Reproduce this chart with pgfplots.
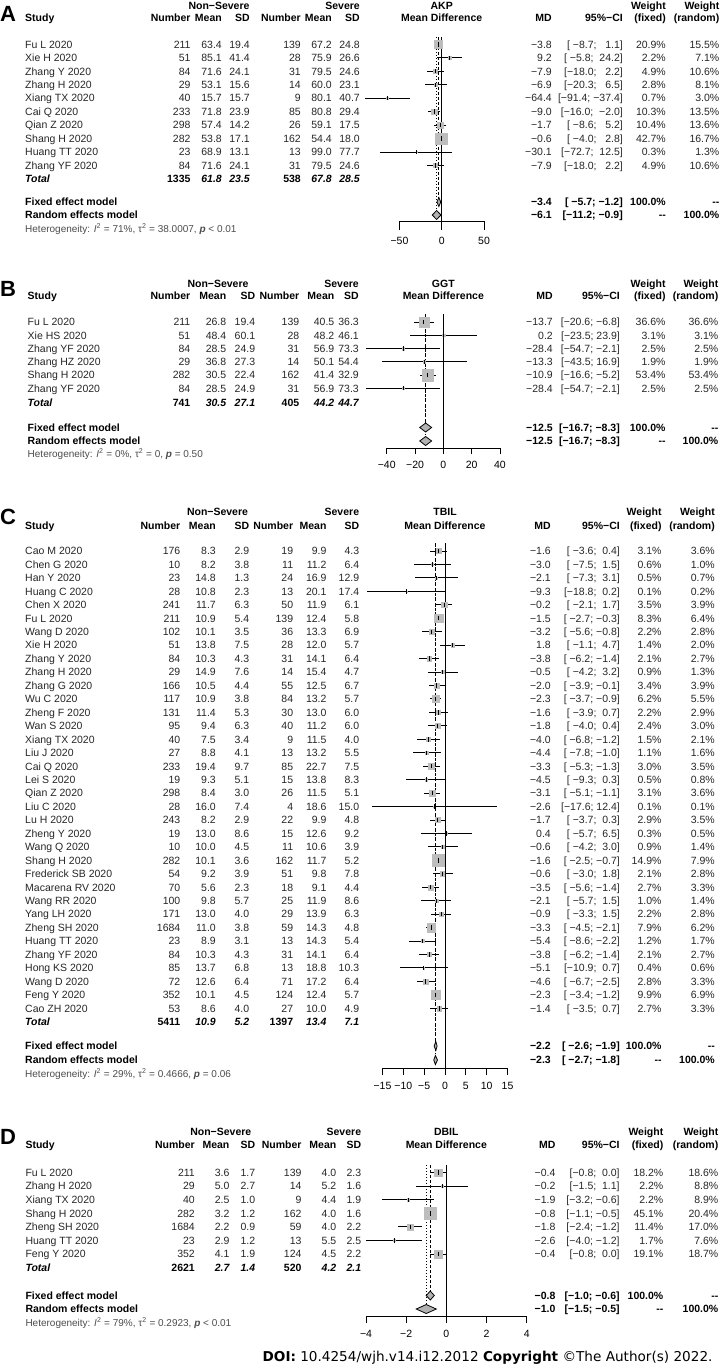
\documentclass[border=0pt]{standalone}
\usepackage{fontspec}
\setmainfont{Liberation Sans}
\newfontfamily\doifont{DejaVu Sans}
\usepackage{pgfplots}
\usepackage{pgfplotstable}
\pgfplotsset{compat=1.18}
\definecolor{sqgray}{gray}{0.74}

% forest plot data: row, MD, CI low, CI high, fixed weight
\pgfplotstableread{
row md lo hi w
1 -3.8 -8.7 1.1 20.9
2 9.2 -5.8 24.2 2.2
3 -7.9 -18.0 2.2 4.9
4 -6.9 -20.3 6.5 2.8
5 -64.4 -91.4 -37.4 0.7
6 -9.0 -16.0 -2.0 10.3
7 -1.7 -8.6 5.2 10.4
8 -0.6 -4.0 2.8 42.7
9 -30.1 -72.7 12.5 0.3
10 -7.9 -18.0 2.2 4.9
}\akp
\pgfplotstableread{
row md lo hi w
1 -13.7 -20.6 -6.8 36.6
2 0.2 -23.5 23.9 3.1
3 -28.4 -54.7 -2.1 2.5
4 -13.3 -43.5 16.9 1.9
5 -10.9 -16.6 -5.2 53.4
6 -28.4 -54.7 -2.1 2.5
}\ggt
\pgfplotstableread{
row md lo hi w
1 -1.6 -3.6 0.4 3.1
2 -3.0 -7.5 1.5 0.6
3 -2.1 -7.3 3.1 0.5
4 -9.3 -18.8 0.2 0.1
5 -0.2 -2.1 1.7 3.5
6 -1.5 -2.7 -0.3 8.3
7 -3.2 -5.6 -0.8 2.2
8 1.8 -1.1 4.7 1.4
9 -3.8 -6.2 -1.4 2.1
10 -0.5 -4.2 3.2 0.9
11 -2.0 -3.9 -0.1 3.4
12 -2.3 -3.7 -0.9 6.2
13 -1.6 -3.9 0.7 2.2
14 -1.8 -4.0 0.4 2.4
15 -4.0 -6.8 -1.2 1.5
16 -4.4 -7.8 -1.0 1.1
17 -3.3 -5.3 -1.3 3.0
18 -4.5 -9.3 0.3 0.5
19 -3.1 -5.1 -1.1 3.1
20 -2.6 -17.6 12.4 0.1
21 -1.7 -3.7 0.3 2.9
22 0.4 -5.7 6.5 0.3
23 -0.6 -4.2 3.0 0.9
24 -1.6 -2.5 -0.7 14.9
25 -0.6 -3.0 1.8 2.1
26 -3.5 -5.6 -1.4 2.7
27 -2.1 -5.7 1.5 1.0
28 -0.9 -3.3 1.5 2.2
29 -3.3 -4.5 -2.1 7.9
30 -5.4 -8.6 -2.2 1.2
31 -3.8 -6.2 -1.4 2.1
32 -5.1 -10.9 0.7 0.4
33 -4.6 -6.7 -2.5 2.8
34 -2.3 -3.4 -1.2 9.9
35 -1.4 -3.5 0.7 2.7
}\tbil
\pgfplotstableread{
row md lo hi w
1 -0.4 -0.8 0.0 18.2
2 -0.2 -1.5 1.1 2.2
3 -1.9 -3.2 -0.6 2.2
4 -0.8 -1.1 -0.5 45.1
5 -1.8 -2.4 -1.2 11.4
6 -2.6 -4.0 -1.2 1.7
7 -0.4 -0.8 0.0 19.1
}\dbil

\pgfplotsset{
  forest/.style={scale only axis, clip=false, enlargelimits=false,
    axis x line=bottom, axis y line=none, ytick=\empty,
    x axis line style={-,line width=1pt},
    tick align=outside, xtick style={line width=1pt,black},
    xticklabel style={font=\fontsize{10.5}{12}\selectfont,yshift=-4pt},
    anchor=north west},
  refl/.style={black,line width=1pt},
  fixl/.style={black,line width=1pt,dash pattern=on 3pt off 2pt},
  ranl/.style={black,line width=1pt,dash pattern=on 1pt off 2pt},
  diam/.style={fill=black!30,draw=black,line width=0.8pt},
}

% squares sized by weight, then CI lines with point marks
\newcommand{\studies}[4]{%
  \addplot[only marks, mark=square*, scatter,
    scatter/use mapped color={draw=sqgray,fill=sqgray},
    visualization depends on={5.75*sqrt(\thisrow{w}/#4) \as \ms},
    scatter/@pre marker code/.append style={/tikz/mark size=\ms}]
    table[x=md, y expr={-(#2+#3*(\thisrow{row}-1))}] {#1};
  \addplot[only marks, mark=|, mark size=2.2pt, mark options={line width=1pt,black},
    error bars/.cd, x dir=both, x explicit, error mark=none,
    error bar style={line width=1pt,black}]
    table[x=md, y expr={-(#2+#3*(\thisrow{row}-1))},
      x error plus expr=\thisrow{hi}-\thisrow{md},
      x error minus expr=\thisrow{md}-\thisrow{lo}] {#1};
}

\newcommand{\setcolsL}[7]{\def\xS{#1}\def\xNa{#2}\def\xMa{#3}\def\xSa{#4}\def\xNb{#5}\def\xMb{#6}\def\xSb{#7}}
\newcommand{\setcolsR}[4]{\def\xMD{#1}\def\xCI{#2}\def\xWf{#3}\def\xWr{#4}}

\newcommand{\heads}[5]{%
  \pgfmathsetmacro\ya{-(#1+3.8)}\pgfmathsetmacro\yb{-(#2+3.8)}
  \node[hdr,anchor=base] at (#3pt,\ya pt) {Non−Severe};
  \node[hdr,anchor=base east] at (\xSb pt,\ya pt) {Severe};
  \node[hdr,anchor=base west] at (\xS pt,\yb pt) {Study};
  \node[hdr,anchor=base east] at (\xNa pt,\yb pt) {Number};
  \node[hdr,anchor=base east] at (\xMa pt,\yb pt) {Mean};
  \node[hdr,anchor=base east] at (\xSa pt,\yb pt) {SD};
  \node[hdr,anchor=base east] at (\xNb pt,\yb pt) {Number};
  \node[hdr,anchor=base east] at (\xMb pt,\yb pt) {Mean};
  \node[hdr,anchor=base east] at (\xSb pt,\yb pt) {SD};
  \node[hdr,anchor=base] at (#5pt,\ya pt) {#4};
  \node[hdr,anchor=base] at (#5pt,\yb pt) {Mean Difference};
  \node[hdr,anchor=base east] at (\xMD pt,\yb pt) {MD};
  \node[hdr,anchor=base east] at (\xCI pt,\yb pt) {95\%−CI};
  \node[hdr,anchor=base east] at (\xWf pt,\ya pt) {Weight};
  \node[hdr,anchor=base east] at (\xWf pt,\yb pt) {(fixed)};
  \node[hdr,anchor=base east] at (\xWr pt,\ya pt) {Weight};
  \node[hdr,anchor=base east] at (\xWr pt,\yb pt) {(random)};
}

\newcommand{\tablerows}[3]{%
  \foreach \vS/\vA/\vB/\vC/\vD/\vE/\vF/\vM/\vK/\vW/\vR [count=\i] in {#3} {
    \pgfmathsetmacro\yy{-(#1+#2*(\i-1))-3.8}
    \node[txt,anchor=base west] at (\xS pt,\yy pt) {\vS};
    \node[txt,anchor=base east] at (\xNa pt,\yy pt) {\vA};
    \node[txt,anchor=base east] at (\xMa pt,\yy pt) {\vB};
    \node[txt,anchor=base east] at (\xSa pt,\yy pt) {\vC};
    \node[txt,anchor=base east] at (\xNb pt,\yy pt) {\vD};
    \node[txt,anchor=base east] at (\xMb pt,\yy pt) {\vE};
    \node[txt,anchor=base east] at (\xSb pt,\yy pt) {\vF};
    \node[txt,anchor=base east] at (\xMD pt,\yy pt) {\vM};
    \node[txt,anchor=base east] at (\xCI pt,\yy pt) {\vK};
    \node[txt,anchor=base east] at (\xWf pt,\yy pt) {\vW};
    \node[txt,anchor=base east] at (\xWr pt,\yy pt) {\vR};
  }}

\newcommand{\totalrow}[7]{%
  \pgfmathsetmacro\ya{-(#1+3.8)}
  \node[hdr,anchor=base west] at (\xS pt,\ya pt) {\itshape Total};
  \node[hdr,anchor=base east] at (\xNa pt,\ya pt) {#2};
  \node[hdr,anchor=base east] at (\xMa pt,\ya pt) {\itshape #3};
  \node[hdr,anchor=base east] at (\xSa pt,\ya pt) {\itshape #4};
  \node[hdr,anchor=base east] at (\xNb pt,\ya pt) {#5};
  \node[hdr,anchor=base east] at (\xMb pt,\ya pt) {\itshape #6};
  \node[hdr,anchor=base east] at (\xSb pt,\ya pt) {\itshape #7};
}

\newcommand{\modelrows}[8]{%
  \pgfmathsetmacro\ya{-(#1+3.8)}\pgfmathsetmacro\yb{-(#2+3.8)}\pgfmathsetmacro\yc{-(#3+3.6)}
  \node[hdr,anchor=base west] at (\xS pt,\ya pt) {Fixed effect model};
  \node[hdr,anchor=base east] at (\xMD pt,\ya pt) {#4};
  \node[hdr,anchor=base east] at (\xCI pt,\ya pt) {#5};
  \node[hdr,anchor=base east] at (\xWf pt,\ya pt) {100.0\%};
  \node[hdr,anchor=base east] at (\xWr pt,\ya pt) {-{}-};
  \node[hdr,anchor=base west] at (\xS pt,\yb pt) {Random effects model};
  \node[hdr,anchor=base east] at (\xMD pt,\yb pt) {#6};
  \node[hdr,anchor=base east] at (\xCI pt,\yb pt) {#7};
  \node[hdr,anchor=base east] at (\xWf pt,\yb pt) {-{}-};
  \node[hdr,anchor=base east] at (\xWr pt,\yb pt) {100.0\%};
  \node[het,anchor=base west] at (\xS pt,\yc pt) {Heterogeneity: #8};
}

\begin{document}
\begin{tikzpicture}[
  txt/.style={font=\fontsize{10.5}{12}\selectfont,inner sep=0pt,text=black!85},
  hdr/.style={font=\fontsize{10.5}{12}\selectfont\bfseries,inner sep=0pt,text=black},
  het/.style={font=\fontsize{10}{11}\selectfont,inner sep=0pt,text=black!70},
  lbl/.style={font=\fontsize{22}{22}\selectfont\bfseries,inner sep=0pt,anchor=base west}]
\useasboundingbox (0,0) rectangle (720pt,-1371pt);

%% ---------------- A: AKP ----------------
\node[lbl] at (0pt,-21pt) {A};
\setcolsL{25}{190.7}{222}{250}{301}{332}{360}
\setcolsR{552}{623}{666}{719.5}
\heads{6}{18}{219}{AKP}{441.7}
\tablerows{44.3}{13.47}{%
Fu L 2020/211/63.4/19.4/139/67.2/24.8/−3.8/[~−8.7;~~~1.1]/20.9\%/15.5\%,
Xie H 2020/51/85.1/41.4/28/75.9/26.6/9.2/[~−5.8;~~24.2]/2.2\%/7.1\%,
Zhang Y 2020/84/71.6/24.1/31/79.5/24.6/−7.9/[−18.0;~~~2.2]/4.9\%/10.6\%,
Zhang H 2020/29/53.1/15.6/14/60.0/23.1/−6.9/[−20.3;~~~6.5]/2.8\%/8.1\%,
Xiang TX 2020/40/15.7/15.7/9/80.1/40.7/−64.4/[−91.4;~−37.4]/0.7\%/3.0\%,
Cai Q 2020/233/71.8/23.9/85/80.8/29.4/−9.0/[−16.0;~~−2.0]/10.3\%/13.5\%,
Qian Z 2020/298/57.4/14.2/26/59.1/17.5/−1.7/[~−8.6;~~~5.2]/10.4\%/13.6\%,
Shang H 2020/282/53.8/17.1/162/54.4/18.0/−0.6/[~−4.0;~~~2.8]/42.7\%/16.7\%,
Huang TT 2020/23/68.9/13.1/13/99.0/77.7/−30.1/[−72.7;~~12.5]/0.3\%/1.3\%,
Zhang YF 2020/84/71.6/24.1/31/79.5/24.6/−7.9/[−18.0;~~~2.2]/4.9\%/10.6\%}
\totalrow{179}{1335}{61.8}{23.5}{538}{67.8}{28.5}
\modelrows{202}{215}{229}{−3.4}{[~−5.7;~−1.2]}{−6.1}{[−11.2;~−0.9]}%
  {\textit{I}\textsuperscript{2} = 71\%, τ\textsuperscript{2} = 38.0007, \textbf{\textit{p}} < 0.01}
\begin{axis}[forest, at={(399.5pt,-37pt)}, width=84.5pt, height=184pt,
  xmin=-50, xmax=50, ymin=-221, ymax=-37, major tick length=9pt,
  xtick={-50,0,50}, xticklabels={−50,0,50}]
\addplot[refl] coordinates {(0,-37) (0,-221)};
\addplot[fixl] coordinates {(-3.4,-37) (-3.4,-202)};
\addplot[ranl] coordinates {(-6.1,-37) (-6.1,-215)};
\studies{\akp}{44.3}{13.47}{42.7}
\addplot[diam] coordinates {(-5.7,-202) (-3.4,-197.5) (-1.2,-202) (-3.4,-206.5)} --cycle;
\addplot[diam] coordinates {(-11.2,-215) (-6.1,-210.5) (-0.9,-215) (-6.1,-219.5)} --cycle;
\end{axis}

%% ---------------- B: GGT ----------------
\node[lbl] at (0pt,-296pt) {B};
\setcolsL{27.5}{190.5}{226.4}{255.3}{299.4}{334.5}{359}
\setcolsR{553}{620}{665.7}{718.5}
\heads{283.5}{295.5}{218}{GGT}{443.3}
\tablerows{322}{13.25}{%
Fu L 2020/211/26.8/19.4/139/40.5/36.3/−13.7/[−20.6;~−6.8]/36.6\%/36.6\%,
Xie HS 2020/51/48.4/60.1/28/48.2/46.1/0.2/[−23.5;~23.9]/3.1\%/3.1\%,
Zhang YF 2020/84/28.5/24.9/31/56.9/73.3/−28.4/[−54.7;~−2.1]/2.5\%/2.5\%,
Zhang HZ 2020/29/36.8/27.3/14/50.1/54.4/−13.3/[−43.5;~16.9]/1.9\%/1.9\%,
Shang H 2020/282/30.5/22.4/162/41.4/32.9/−10.9/[−16.6;~−5.2]/53.4\%/53.4\%,
Zhang YF 2020/84/28.5/24.9/31/56.9/73.3/−28.4/[−54.7;~−2.1]/2.5\%/2.5\%}
\totalrow{402.3}{741}{30.5}{27.1}{405}{44.2}{44.7}
\modelrows{427.5}{441}{454}{−12.5}{[−16.7;~−8.3]}{−12.5}{[−16.7;~−8.3]}%
  {\textit{I}\textsuperscript{2} = 0\%, τ\textsuperscript{2} = 0, \textbf{\textit{p}} = 0.50}
\begin{axis}[forest, at={(386.7pt,-314pt)}, width=113.3pt, height=134pt,
  xmin=-40, xmax=40, ymin=-448, ymax=-314, major tick length=6pt,
  xtick={-40,-20,0,20,40}, xticklabels={−40,−20,0,20,40}]
\addplot[refl] coordinates {(0,-314) (0,-448)};
\addplot[fixl] coordinates {(-12.5,-314) (-12.5,-427.5)};
\addplot[ranl] coordinates {(-12.5,-314) (-12.5,-441)};
\studies{\ggt}{322}{13.25}{53.4}
\addplot[diam] coordinates {(-16.7,-427.5) (-12.5,-423) (-8.3,-427.5) (-12.5,-432)} --cycle;
\addplot[diam] coordinates {(-16.7,-441) (-12.5,-436.5) (-8.3,-441) (-12.5,-445.5)} --cycle;
\end{axis}

%% ---------------- C: TBIL ----------------
\node[lbl] at (0pt,-524pt) {C};
\setcolsL{25}{180.5}{216}{249.3}{293.3}{326.7}{359.3}
\setcolsR{551}{620}{661.7}{715}
\heads{511.7}{525.7}{217.5}{TBIL}{445}
\tablerows{551}{13.45}{%
Cao M 2020/176/8.3/2.9/19/9.9/4.3/−1.6/[~−3.6;~~0.4]/3.1\%/3.6\%,
Chen G 2020/10/8.2/3.8/11/11.2/6.4/−3.0/[~−7.5;~~1.5]/0.6\%/1.0\%,
Han Y 2020/23/14.8/1.3/24/16.9/12.9/−2.1/[~−7.3;~~3.1]/0.5\%/0.7\%,
Huang C 2020/28/10.8/2.3/13/20.1/17.4/−9.3/[−18.8;~~0.2]/0.1\%/0.2\%,
Chen X 2020/241/11.7/6.3/50/11.9/6.1/−0.2/[~−2.1;~~1.7]/3.5\%/3.9\%,
Fu L 2020/211/10.9/5.4/139/12.4/5.8/−1.5/[~−2.7;~−0.3]/8.3\%/6.4\%,
Wang D 2020/102/10.1/3.5/36/13.3/6.9/−3.2/[~−5.6;~−0.8]/2.2\%/2.8\%,
Xie H 2020/51/13.8/7.5/28/12.0/5.7/1.8/[~−1.1;~~4.7]/1.4\%/2.0\%,
Zhang Y 2020/84/10.3/4.3/31/14.1/6.4/−3.8/[~−6.2;~−1.4]/2.1\%/2.7\%,
Zhang H 2020/29/14.9/7.6/14/15.4/4.7/−0.5/[~−4.2;~~3.2]/0.9\%/1.3\%,
Zhang G 2020/166/10.5/4.4/55/12.5/6.7/−2.0/[~−3.9;~−0.1]/3.4\%/3.9\%,
Wu C 2020/117/10.9/3.8/84/13.2/5.7/−2.3/[~−3.7;~−0.9]/6.2\%/5.5\%,
Zheng F 2020/131/11.4/5.3/30/13.0/6.0/−1.6/[~−3.9;~~0.7]/2.2\%/2.9\%,
Wan S 2020/95/9.4/6.3/40/11.2/6.0/−1.8/[~−4.0;~~0.4]/2.4\%/3.0\%,
Xiang TX 2020/40/7.5/3.4/9/11.5/4.0/−4.0/[~−6.8;~−1.2]/1.5\%/2.1\%,
Liu J 2020/27/8.8/4.1/13/13.2/5.5/−4.4/[~−7.8;~−1.0]/1.1\%/1.6\%,
Cai Q 2020/233/19.4/9.7/85/22.7/7.5/−3.3/[~−5.3;~−1.3]/3.0\%/3.5\%,
Lei S 2020/19/9.3/5.1/15/13.8/8.3/−4.5/[~−9.3;~~0.3]/0.5\%/0.8\%,
Qian Z 2020/298/8.4/3.0/26/11.5/5.1/−3.1/[~−5.1;~−1.1]/3.1\%/3.6\%,
Liu C 2020/28/16.0/7.4/4/18.6/15.0/−2.6/[−17.6;~12.4]/0.1\%/0.1\%,
Lu H 2020/243/8.2/2.9/22/9.9/4.8/−1.7/[~−3.7;~~0.3]/2.9\%/3.5\%,
Zheng Y 2020/19/13.0/8.6/15/12.6/9.2/0.4/[~−5.7;~~6.5]/0.3\%/0.5\%,
Wang Q 2020/10/10.0/4.5/11/10.6/3.9/−0.6/[~−4.2;~~3.0]/0.9\%/1.4\%,
Shang H 2020/282/10.1/3.6/162/11.7/5.2/−1.6/[~−2.5;~−0.7]/14.9\%/7.9\%,
Frederick SB 2020/54/9.2/3.9/51/9.8/7.8/−0.6/[~−3.0;~~1.8]/2.1\%/2.8\%,
Macarena RV 2020/70/5.6/2.3/18/9.1/4.4/−3.5/[~−5.6;~−1.4]/2.7\%/3.3\%,
Wang RR 2020/100/9.8/5.7/25/11.9/8.6/−2.1/[~−5.7;~~1.5]/1.0\%/1.4\%,
Yang LH 2020/171/13.0/4.0/29/13.9/6.3/−0.9/[~−3.3;~~1.5]/2.2\%/2.8\%,
Zheng SH 2020/1684/11.0/3.8/59/14.3/4.8/−3.3/[~−4.5;~−2.1]/7.9\%/6.2\%,
Huang TT 2020/23/8.9/3.1/13/14.3/5.4/−5.4/[~−8.6;~−2.2]/1.2\%/1.7\%,
Zhang YF 2020/84/10.3/4.3/31/14.1/6.4/−3.8/[~−6.2;~−1.4]/2.1\%/2.7\%,
Hong KS 2020/85/13.7/6.8/13/18.8/10.3/−5.1/[−10.9;~~0.7]/0.4\%/0.6\%,
Wang D 2020/72/12.6/6.4/71/17.2/6.4/−4.6/[~−6.7;~−2.5]/2.8\%/3.3\%,
Feng Y 2020/352/10.1/4.5/124/12.4/5.7/−2.3/[~−3.4;~−1.2]/9.9\%/6.9\%,
Cao ZH 2020/53/8.6/4.0/27/10.0/4.9/−1.4/[~−3.5;~~0.7]/2.7\%/3.3\%}
\totalrow{1021.8}{5411}{10.9}{5.2}{1397}{13.4}{7.1}
\modelrows{1046}{1060}{1074}{−2.2}{[~−2.6;~−1.9]}{−2.3}{[~−2.7;~−1.8]}%
  {\textit{I}\textsuperscript{2} = 29\%, τ\textsuperscript{2} = 0.4666, \textbf{\textit{p}} = 0.06}
\begin{axis}[forest, at={(382.5pt,-543pt)}, width=125pt, height=525pt,
  xmin=-15, xmax=15, ymin=-1068, ymax=-543, major tick length=7pt,
  xtick={-15,-10,-5,0,5,10,15}, xticklabels={−15,−10,−5,0,5,10,15}]
\addplot[refl] coordinates {(0,-543) (0,-1068)};
\addplot[fixl] coordinates {(-2.2,-543) (-2.2,-1046)};
\addplot[ranl] coordinates {(-2.3,-543) (-2.3,-1060)};
\studies{\tbil}{551}{13.45}{14.9}
\addplot[diam] coordinates {(-2.6,-1046) (-2.2,-1041.5) (-1.9,-1046) (-2.2,-1050.5)} --cycle;
\addplot[diam] coordinates {(-2.7,-1060) (-2.3,-1055.5) (-1.8,-1060) (-2.3,-1064.5)} --cycle;
\end{axis}

%% ---------------- D: DBIL ----------------
\node[lbl] at (0pt,-1144pt) {D};
\setcolsL{25.3}{195}{229.6}{255.3}{301.7}{336.5}{361.3}
\setcolsR{555.6}{619.8}{663.5}{718.5}
\heads{1131.7}{1145}{220.8}{DBIL}{446.3}
\tablerows{1172.5}{13.6}{%
Fu L 2020/211/3.6/1.7/139/4.0/2.3/−0.4/[−0.8;~~0.0]/18.2\%/18.6\%,
Zhang H 2020/29/5.0/2.7/14/5.2/1.6/−0.2/[−1.5;~~1.1]/2.2\%/8.8\%,
Xiang TX 2020/40/2.5/1.0/9/4.4/1.9/−1.9/[−3.2;~−0.6]/2.2\%/8.9\%,
Shang H 2020/282/3.2/1.2/162/4.0/1.6/−0.8/[−1.1;~−0.5]/45.1\%/20.4\%,
Zheng SH 2020/1684/2.2/0.9/59/4.0/2.2/−1.8/[−2.4;~−1.2]/11.4\%/17.0\%,
Huang TT 2020/23/2.9/1.2/13/5.5/2.5/−2.6/[−4.0;~−1.2]/1.7\%/7.6\%,
Feng Y 2020/352/4.1/1.9/124/4.5/2.2/−0.4/[−0.8;~~0.0]/19.1\%/18.7\%}
\totalrow{1268}{2621}{2.7}{1.4}{520}{4.2}{2.1}
\modelrows{1295.5}{1309}{1323}{−0.8}{[−1.0;~−0.6]}{−1.0}{[−1.5;~−0.5]}%
  {\textit{I}\textsuperscript{2} = 79\%, τ\textsuperscript{2} = 0.2923, \textbf{\textit{p}} < 0.01}
\begin{axis}[forest, at={(366pt,-1165pt)}, width=160.7pt, height=151.5pt,
  xmin=-4, xmax=4, ymin=-1316.5, ymax=-1165, major tick length=6pt,
  xtick={-4,-2,0,2,4}, xticklabels={−4,−2,0,2,4}]
\addplot[refl] coordinates {(0,-1165) (0,-1316.5)};
\addplot[fixl] coordinates {(-0.8,-1165) (-0.8,-1295.5)};
\addplot[ranl] coordinates {(-1.0,-1165) (-1.0,-1309)};
\studies{\dbil}{1172.5}{13.6}{45.1}
\addplot[diam] coordinates {(-1.0,-1295.5) (-0.8,-1291) (-0.6,-1295.5) (-0.8,-1300)} --cycle;
\addplot[diam] coordinates {(-1.5,-1309) (-1.0,-1304.5) (-0.5,-1309) (-1.0,-1313.5)} --cycle;
\end{axis}

\node[anchor=base east,inner sep=0pt,font=\doifont\fontsize{13.6}{15}\selectfont] at (712.7pt,-1361pt)
  {\textbf{DOI:} 10.4254/wjh.v14.i12.2012 \textbf{Copyright} ©The Author(s) 2022.};
\end{tikzpicture}
\end{document}
